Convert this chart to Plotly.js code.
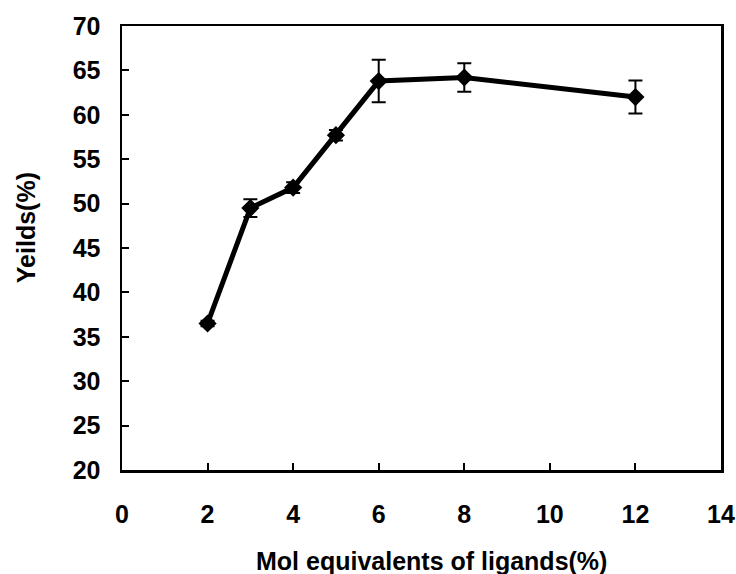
<!DOCTYPE html>
<html>
<head>
<meta charset="utf-8">
<script src="https://cdn.plot.ly/plotly-3.0.1.min.js"></script>
<style>
  html, body { margin: 0; padding: 0; background: #fff; }
  #chart { width: 736px; height: 574px; }
</style>
</head>
<body>
<div id="chart"></div>
<script>
// Ligand loading (mol %) vs. isolated yield (%) with standard deviations
const ligandLoading = [2, 3, 4, 5, 6, 8, 12];
const yieldPct = [36.5, 49.5, 51.8, 57.7, 63.8, 64.2, 62.0];
const yieldErr = [0.3, 1.0, 0.6, 0.6, 2.4, 1.6, 1.85];

const xTicks = [0, 2, 4, 6, 8, 10, 12, 14];
const yTicks = [20, 25, 30, 35, 40, 45, 50, 55, 60, 65, 70];

const xTitle = 'Mol equivalents of ligands(%)';
const yTitle = 'Yeilds(%)';

const family = 'Liberation Sans, Arial, sans-serif';
const boldFont = { family: family, size: 25, color: '#000', weight: 'bold' };

const trace = {
  x: ligandLoading,
  y: yieldPct,
  type: 'scatter',
  mode: 'lines+markers',
  line: { color: '#000', width: 5 },
  marker: { symbol: 'diamond', size: 14, color: '#000' },
  error_y: { type: 'data', array: yieldErr, visible: true, color: '#000', thickness: 2, width: 7 },
  hoverinfo: 'x+y'
};

const axisCommon = {
  showgrid: false,
  zeroline: false,
  showline: true,
  linecolor: '#000',
  linewidth: 2.5,
  mirror: true,
  ticks: 'inside',
  ticklen: 7,
  tickwidth: 2,
  tickcolor: '#000',
  tickfont: boldFont
};

const layout = {
  width: 736,
  height: 574,
  margin: { l: 122, r: 15, t: 26, b: 104 },
  paper_bgcolor: '#fff',
  plot_bgcolor: '#fff',
  showlegend: false,
  font: { family: family, size: 25, color: '#000' },
  xaxis: Object.assign({}, axisCommon, {
    range: [0, 14],
    tickvals: xTicks,
    ticktext: xTicks.map(String),
    ticklabelstandoff: 20
  }),
  yaxis: Object.assign({}, axisCommon, {
    range: [20, 70],
    tickvals: yTicks,
    ticktext: yTicks.map(String),
    ticklabelstandoff: 14
  }),
  // axis titles placed as annotations so they can sit off the plot centre
  annotations: [
    {
      text: xTitle, xref: 'paper', yref: 'paper',
      x: 0.5175, y: -0.205, xanchor: 'center', yanchor: 'middle',
      showarrow: false, font: boldFont
    },
    {
      text: yTitle, xref: 'paper', yref: 'paper',
      x: -0.160, y: 0.545, xanchor: 'center', yanchor: 'middle',
      textangle: -90, showarrow: false, font: boldFont
    }
  ]
};

Plotly.newPlot('chart', [trace], layout, { displayModeBar: false, staticPlot: true });
</script>
</body>
</html>
